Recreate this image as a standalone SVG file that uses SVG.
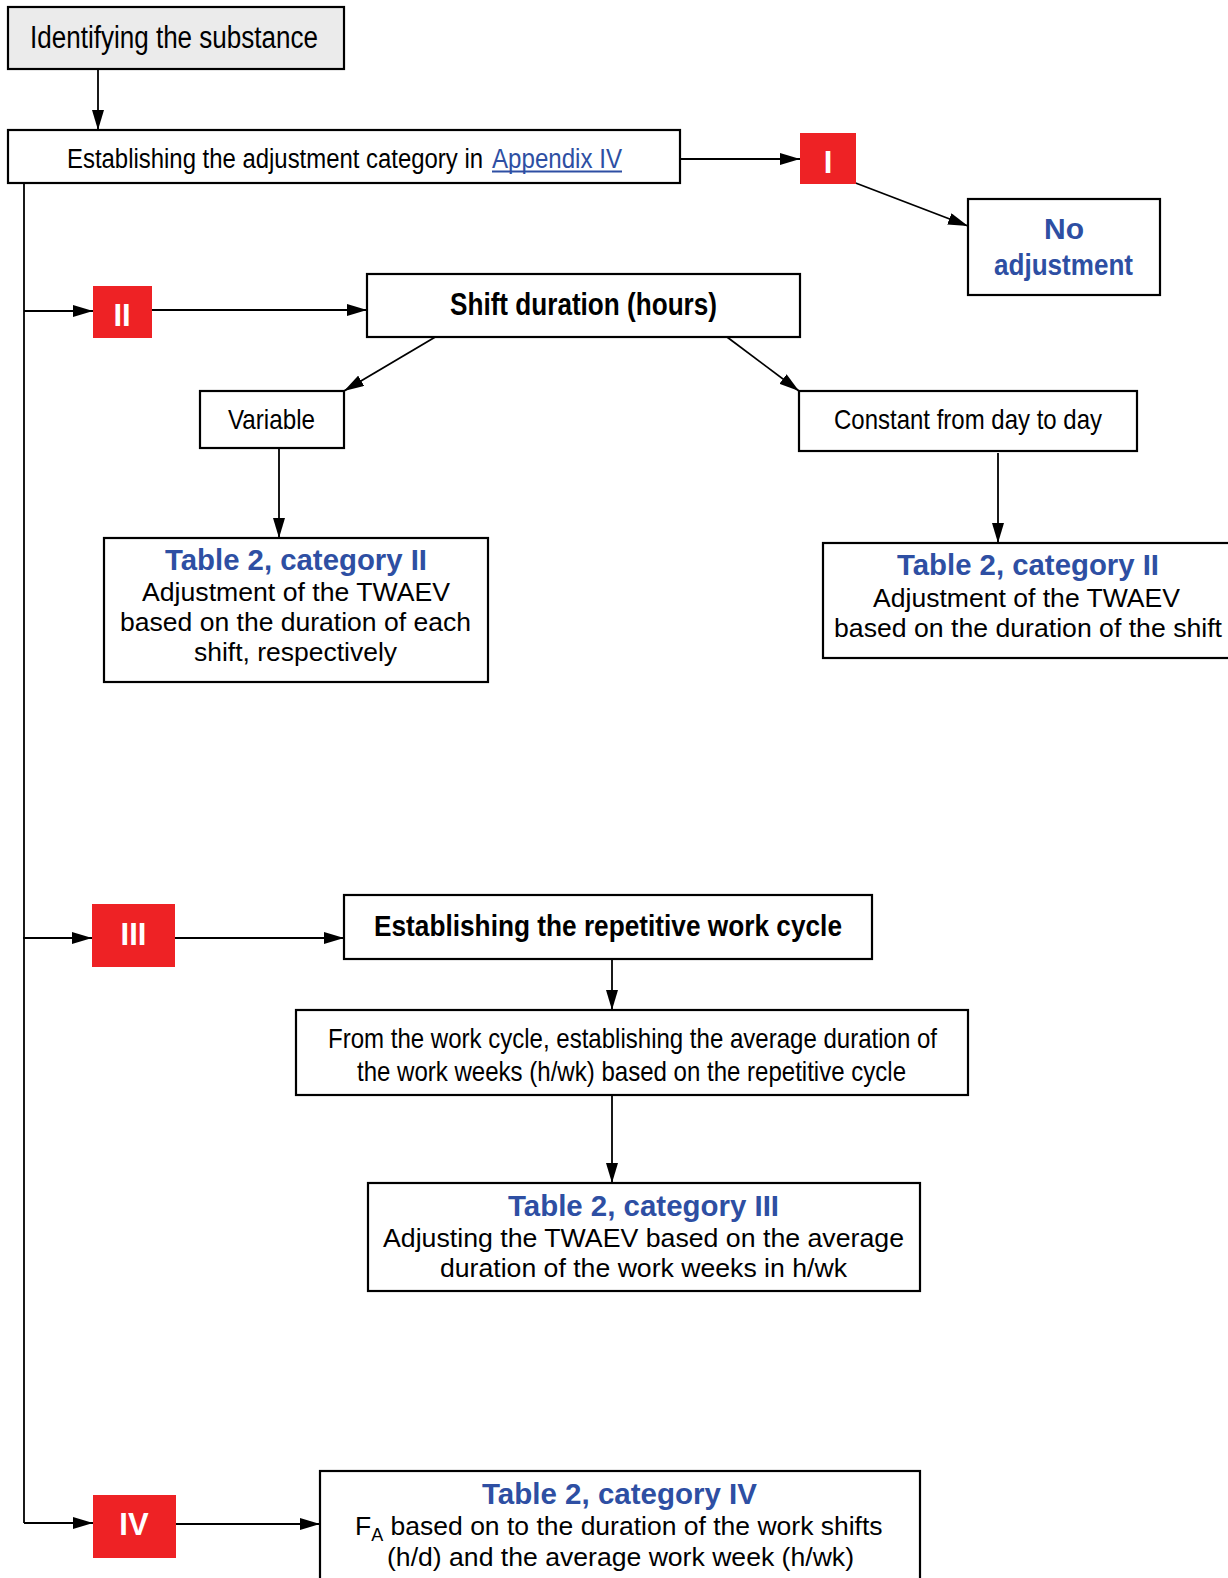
<svg xmlns="http://www.w3.org/2000/svg" width="1228" height="1578" viewBox="0 0 1228 1578">
<style>
.box{fill:#fff;stroke:#000;stroke-width:2.2}
.gray{fill:#ebebeb}
.red{fill:#ee2225}
.ln{fill:none;stroke:#000;stroke-width:1.8}
.n{font-family:"Liberation Sans Narrow","Liberation Sans",Arial,sans-serif;fill:#000}
.nb{font-family:"Liberation Sans Narrow","Liberation Sans",Arial,sans-serif;font-weight:bold;fill:#000}
.r{font-family:"Liberation Sans",Arial,sans-serif;font-size:26.5px;fill:#000}
.t{font-family:"Liberation Sans",Arial,sans-serif;font-size:29px;font-weight:bold;fill:#2e4fa3}
.blue{fill:#2e4fa3}
.rn{font-family:"Liberation Sans Narrow","Liberation Sans",Arial,sans-serif;font-weight:bold;font-size:31px;fill:#fff}
</style>
<defs>
<marker id="ah" viewBox="0 0 20 12" refX="20" refY="6" markerWidth="20" markerHeight="12" markerUnits="userSpaceOnUse" orient="auto"><path d="M0,0 L20,6 L0,12 z" fill="#000"/></marker>
</defs>
<g id="connectors">
<line class="ln" x1="98" y1="69" x2="98" y2="130" marker-end="url(#ah)"/>
<line class="ln" x1="680" y1="159" x2="800" y2="159" marker-end="url(#ah)"/>
<line class="ln" x1="853" y1="182" x2="968" y2="226" marker-end="url(#ah)"/>
<polyline class="ln" points="24,183 24,1523"/>
<line class="ln" x1="24" y1="311" x2="93" y2="311" marker-end="url(#ah)"/>
<line class="ln" x1="152" y1="310" x2="367" y2="310" marker-end="url(#ah)"/>
<line class="ln" x1="437" y1="336" x2="344" y2="391" marker-end="url(#ah)"/>
<line class="ln" x1="727" y1="337" x2="799" y2="391" marker-end="url(#ah)"/>
<line class="ln" x1="279" y1="448" x2="279" y2="538" marker-end="url(#ah)"/>
<line class="ln" x1="998" y1="453" x2="998" y2="543" marker-end="url(#ah)"/>
<line class="ln" x1="23" y1="938" x2="92" y2="938" marker-end="url(#ah)"/>
<line class="ln" x1="175" y1="938" x2="344" y2="938" marker-end="url(#ah)"/>
<line class="ln" x1="612" y1="959" x2="612" y2="1010" marker-end="url(#ah)"/>
<line class="ln" x1="612" y1="1095" x2="612" y2="1183" marker-end="url(#ah)"/>
<line class="ln" x1="24" y1="1523" x2="93" y2="1523" marker-end="url(#ah)"/>
<line class="ln" x1="176" y1="1524" x2="320" y2="1524" marker-end="url(#ah)"/>
</g>
<g id="identify">
<rect class="box gray" x="8" y="7" width="336" height="62"/>
<text class="n" x="30" y="48" font-size="31" textLength="288" lengthAdjust="spacingAndGlyphs">Identifying the substance</text>
</g>
<g id="establish-category">
<rect class="box" x="8" y="130" width="672" height="53"/>
<text transform="translate(67 168) scale(0.856 1)" x="0" y="0" font-family="'Liberation Sans', Arial, sans-serif" font-size="28" fill="#000" textLength="486" lengthAdjust="spacingAndGlyphs">Establishing the adjustment category in</text>
<text class="n blue" x="492" y="168" font-size="28" textLength="130" lengthAdjust="spacingAndGlyphs">Appendix IV</text>
<line x1="492" y1="171.5" x2="622" y2="171.5" stroke="#2e4fa3" stroke-width="2"/>
</g>
<g id="cat-I">
<rect class="red" x="800" y="133" width="56" height="51"/>
<text class="rn" x="828" y="173" text-anchor="middle">I</text>
</g>
<g id="no-adjustment">
<rect class="box" x="968" y="199" width="192" height="96"/>
<text class="nb blue" x="1064" y="239" font-size="30" text-anchor="middle">No</text>
<text class="nb blue" x="994" y="275" font-size="30" textLength="139" lengthAdjust="spacingAndGlyphs">adjustment</text>
</g>
<g id="cat-II">
<rect class="red" x="93" y="286" width="59" height="52"/>
<text class="rn" x="122" y="326" text-anchor="middle">II</text>
</g>
<g id="shift-duration">
<rect class="box" x="367" y="274" width="433" height="63"/>
<text class="nb" x="450" y="315" font-size="31" textLength="267" lengthAdjust="spacingAndGlyphs">Shift duration (hours)</text>
</g>
<g id="variable">
<rect class="box" x="200" y="391" width="144" height="57"/>
<text class="n" x="228" y="429" font-size="28" textLength="87" lengthAdjust="spacingAndGlyphs">Variable</text>
</g>
<g id="constant">
<rect class="box" x="799" y="391" width="338" height="60"/>
<text class="n" x="834" y="429" font-size="28" textLength="268" lengthAdjust="spacingAndGlyphs">Constant from day to day</text>
</g>
<g id="table2-II-variable">
<rect class="box" x="104" y="538" width="384" height="144"/>
<text class="t" x="165" y="570" textLength="262" lengthAdjust="spacingAndGlyphs">Table 2, category II</text>
<text class="r" x="142" y="601" textLength="308" lengthAdjust="spacingAndGlyphs">Adjustment of the TWAEV</text>
<text class="r" x="120" y="631" textLength="351" lengthAdjust="spacingAndGlyphs">based on the duration of each</text>
<text class="r" x="194" y="661" textLength="203" lengthAdjust="spacingAndGlyphs">shift, respectively</text>
</g>
<g id="table2-II-constant">
<rect class="box" x="823" y="543" width="410" height="115"/>
<text class="t" x="897" y="575" textLength="262" lengthAdjust="spacingAndGlyphs">Table 2, category II</text>
<text class="r" x="873" y="607" textLength="307" lengthAdjust="spacingAndGlyphs">Adjustment of the TWAEV</text>
<text class="r" x="834" y="637" textLength="388" lengthAdjust="spacingAndGlyphs">based on the duration of the shift</text>
</g>
<g id="cat-III">
<rect class="red" x="92" y="904" width="83" height="63"/>
<text class="rn" x="133.5" y="945" text-anchor="middle">III</text>
</g>
<g id="work-cycle">
<rect class="box" x="344" y="895" width="528" height="64"/>
<text class="nb" x="374" y="936" font-size="30" textLength="468" lengthAdjust="spacingAndGlyphs">Establishing the repetitive work cycle</text>
</g>
<g id="average-duration">
<rect class="box" x="296" y="1010" width="672" height="85"/>
<text class="n" x="328" y="1048" font-size="28" textLength="609" lengthAdjust="spacingAndGlyphs">From the work cycle, establishing the average duration of</text>
<text class="n" x="357" y="1081" font-size="28" textLength="549" lengthAdjust="spacingAndGlyphs">the work weeks (h/wk) based on the repetitive cycle</text>
</g>
<g id="table2-III">
<rect class="box" x="368" y="1183" width="552" height="108"/>
<text class="t" x="508" y="1216" textLength="271" lengthAdjust="spacingAndGlyphs">Table 2, category III</text>
<text class="r" x="383" y="1247" textLength="521" lengthAdjust="spacingAndGlyphs">Adjusting the TWAEV based on the average</text>
<text class="r" x="440" y="1277" textLength="407" lengthAdjust="spacingAndGlyphs">duration of the work weeks in h/wk</text>
</g>
<g id="cat-IV">
<rect class="red" x="93" y="1495" width="83" height="63"/>
<text class="rn" x="134" y="1535" text-anchor="middle">IV</text>
</g>
<g id="table2-IV">
<rect class="box" x="320" y="1471" width="600" height="120"/>
<text class="t" x="482" y="1504" textLength="275" lengthAdjust="spacingAndGlyphs">Table 2, category IV</text>
<text class="r" x="355" y="1535">F<tspan font-size="18" dy="6">A</tspan><tspan dy="-6"> based on to the duration of the work shifts</tspan></text>
<text class="r" x="387" y="1566" textLength="467" lengthAdjust="spacingAndGlyphs">(h/d) and the average work week (h/wk)</text>
</g>
</svg>
